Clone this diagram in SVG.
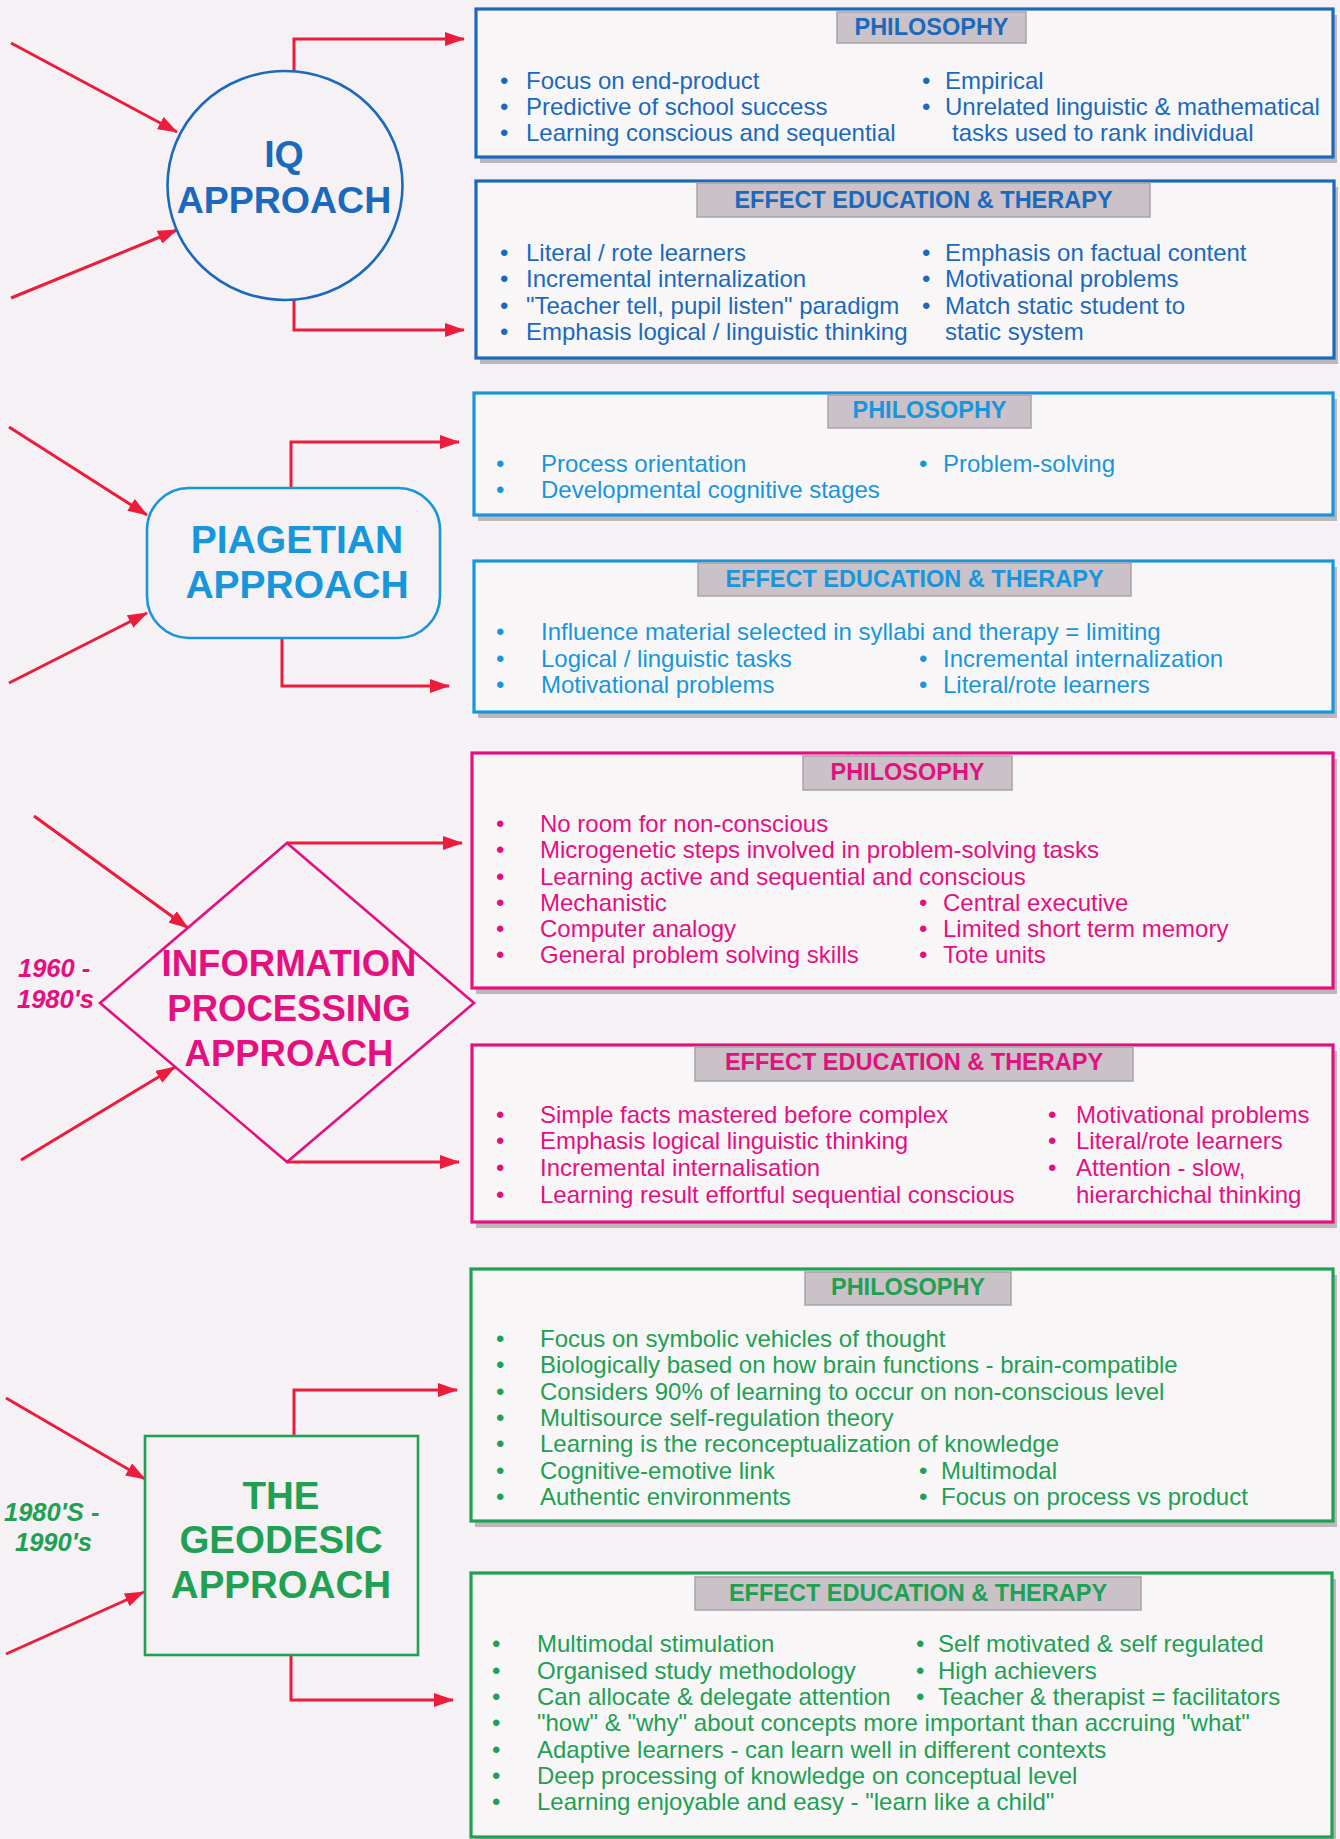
<svg xmlns="http://www.w3.org/2000/svg" width="1340" height="1839" viewBox="0 0 1340 1839">
<defs>
<style>
.t{font-family:"Liberation Sans",Arial,Helvetica,sans-serif;font-size:24px}
.lb{font-family:"Liberation Sans",Arial,Helvetica,sans-serif;font-size:23.5px;font-weight:bold;text-anchor:middle}
.nd{font-family:"Liberation Sans",Arial,Helvetica,sans-serif;font-weight:bold;text-anchor:middle}
.dt{font-family:"Liberation Sans",Arial,Helvetica,sans-serif;font-weight:bold;font-style:italic;font-size:25.5px}
.box{fill:#f9f6f8;stroke-width:3.2}
.shd{fill:#bdb6bb}
.tag{fill:#cac2c8;stroke:#a9a2a7;stroke-width:1.5}
.iq{fill:#1a69bd}
.pg{fill:#1796dc}
.ip{fill:#e5107f}
.gd{fill:#20a052}
.siq{stroke:#1a69bd}
.spg{stroke:#1796dc}
.sip{stroke:#e5107f}
.sgd{stroke:#20a052}
.node{fill:none;stroke-width:2.6}
.con{fill:none;stroke:#ec1c3d;stroke-width:3;marker-end:url(#ah)}
</style>
<marker id="ah" markerUnits="userSpaceOnUse" markerWidth="20" markerHeight="14" viewBox="0 0 20 14" refX="19" refY="7" orient="auto">
<path d="M0,0 L20,7 L0,14 z" fill="#ec1c3d"/>
</marker>
</defs>
<rect x="0" y="0" width="1340" height="1839" fill="#f6f1f4"/>

<g id="connectors">
<path class="con" d="M11,43 L177,132"/>
<path class="con" d="M11,298 L177,230"/>
<path class="con" d="M294,71 V39 H464"/>
<path class="con" d="M294,300 V330 H464"/>
<path class="con" d="M9,427 L147,515"/>
<path class="con" d="M9,683 L147,613"/>
<path class="con" d="M291,488 V442 H459"/>
<path class="con" d="M282,638 V686 H449"/>
<path class="con" d="M34,816 L188,928"/>
<path class="con" d="M21,1160 L175,1067"/>
<path class="con" d="M287,843 H462"/>
<path class="con" d="M287,1162 H459"/>
<path class="con" d="M6,1398 L145,1479"/>
<path class="con" d="M6,1654 L144,1592"/>
<path class="con" d="M294,1436 V1390 H457"/>
<path class="con" d="M291,1655 V1700 H453"/>
</g>

<!-- IQ -->
<g id="iq-approach">
<ellipse class="node siq" cx="285" cy="185.5" rx="117.5" ry="114.5"/>
<text class="nd iq" x="284" y="167" font-size="37.5">IQ</text>
<text class="nd iq" x="284" y="213" font-size="37.5">APPROACH</text>
</g>
<g id="iq-philosophy">
<rect class="shd" x="480" y="15" width="857" height="148"/>
<rect class="box siq" x="476" y="9" width="857" height="148"/>
<rect class="tag" x="837" y="12" width="189" height="31"/>
<text class="lb iq" x="931.5" y="35">PHILOSOPHY</text>
<g class="t iq">
<text x="500" y="89">•</text><text x="526" y="89">Focus on end-product</text>
<text x="500" y="115">•</text><text x="526" y="115">Predictive of school success</text>
<text x="500" y="141">•</text><text x="526" y="141">Learning conscious and sequential</text>
<text x="922" y="89">•</text><text x="945" y="89">Empirical</text>
<text x="922" y="115">•</text><text x="945" y="115">Unrelated linguistic &amp; mathematical</text>
<text x="952" y="141">tasks used to rank individual</text>
</g>
</g>
<g id="iq-effect">
<rect class="shd" x="480" y="187" width="858" height="177"/>
<rect class="box siq" x="476" y="181" width="858" height="177"/>
<rect class="tag" x="697" y="183" width="453" height="34"/>
<text class="lb iq" x="923.5" y="208">EFFECT EDUCATION &amp; THERAPY</text>
<g class="t iq">
<text x="500" y="261">•</text><text x="526" y="261">Literal / rote learners</text>
<text x="500" y="287">•</text><text x="526" y="287">Incremental internalization</text>
<text x="500" y="314">•</text><text x="526" y="314">"Teacher tell, pupil listen" paradigm</text>
<text x="500" y="340">•</text><text x="526" y="340">Emphasis logical / linguistic thinking</text>
<text x="922" y="261">•</text><text x="945" y="261">Emphasis on factual content</text>
<text x="922" y="287">•</text><text x="945" y="287">Motivational problems</text>
<text x="922" y="314">•</text><text x="945" y="314">Match static student to</text>
<text x="945" y="340">static system</text>
</g>
</g>

<!-- Piagetian -->
<g id="piagetian-approach">
<rect class="node spg" x="147" y="488" width="293" height="150" rx="42" ry="42"/>
<text class="nd pg" x="297" y="553" font-size="39">PIAGETIAN</text>
<text class="nd pg" x="297" y="598" font-size="39">APPROACH</text>
</g>
<g id="piagetian-philosophy">
<rect class="shd" x="478" y="399" width="859" height="122"/>
<rect class="box spg" x="474" y="393" width="859" height="122"/>
<rect class="tag" x="828" y="395" width="203" height="33"/>
<text class="lb pg" x="929.5" y="418">PHILOSOPHY</text>
<g class="t pg">
<text x="496" y="472">•</text><text x="541" y="472">Process orientation</text>
<text x="496" y="498">•</text><text x="541" y="498">Developmental cognitive stages</text>
<text x="919" y="472">•</text><text x="943" y="472">Problem-solving</text>
</g>
</g>
<g id="piagetian-effect">
<rect class="shd" x="478" y="567" width="859" height="151"/>
<rect class="box spg" x="474" y="561" width="859" height="151"/>
<rect class="tag" x="698" y="563" width="433" height="33"/>
<text class="lb pg" x="914.5" y="587">EFFECT EDUCATION &amp; THERAPY</text>
<g class="t pg">
<text x="496" y="640">•</text><text x="541" y="640">Influence material selected in syllabi and therapy = limiting</text>
<text x="496" y="667">•</text><text x="541" y="667">Logical / linguistic tasks</text>
<text x="496" y="693">•</text><text x="541" y="693">Motivational problems</text>
<text x="919" y="667">•</text><text x="943" y="667">Incremental internalization</text>
<text x="919" y="693">•</text><text x="943" y="693">Literal/rote learners</text>
</g>
</g>

<!-- Information processing -->
<g id="information-processing-approach">
<polygon class="node sip" points="287,843 474,1003 287,1162 100,1003"/>
<text class="nd ip" x="289" y="976" font-size="36.5">INFORMATION</text>
<text class="nd ip" x="289" y="1021" font-size="36.5">PROCESSING</text>
<text class="nd ip" x="289" y="1066" font-size="36.5">APPROACH</text>
<text class="dt ip" x="18" y="977">1960 -</text>
<text class="dt ip" x="17" y="1008">1980's</text>
</g>
<g id="information-processing-philosophy">
<rect class="shd" x="476" y="759" width="861" height="235"/>
<rect class="box sip" x="472" y="753" width="861" height="235"/>
<rect class="tag" x="803" y="756" width="209" height="34"/>
<text class="lb ip" x="907.5" y="780">PHILOSOPHY</text>
<g class="t ip">
<text x="496" y="832">•</text><text x="540" y="832">No room for non-conscious</text>
<text x="496" y="858">•</text><text x="540" y="858">Microgenetic steps involved in problem-solving tasks</text>
<text x="496" y="885">•</text><text x="540" y="885">Learning active and sequential and conscious</text>
<text x="496" y="911">•</text><text x="540" y="911">Mechanistic</text>
<text x="496" y="937">•</text><text x="540" y="937">Computer analogy</text>
<text x="496" y="963">•</text><text x="540" y="963">General problem solving skills</text>
<text x="919" y="911">•</text><text x="943" y="911">Central executive</text>
<text x="919" y="937">•</text><text x="943" y="937">Limited short term memory</text>
<text x="919" y="963">•</text><text x="943" y="963">Tote units</text>
</g>
</g>
<g id="information-processing-effect">
<rect class="shd" x="476" y="1051" width="861" height="177"/>
<rect class="box sip" x="472" y="1045" width="861" height="177"/>
<rect class="tag" x="695" y="1047" width="438" height="34"/>
<text class="lb ip" x="914" y="1070">EFFECT EDUCATION &amp; THERAPY</text>
<g class="t ip">
<text x="496" y="1123">•</text><text x="540" y="1123">Simple facts mastered before complex</text>
<text x="496" y="1149">•</text><text x="540" y="1149">Emphasis logical linguistic thinking</text>
<text x="496" y="1176">•</text><text x="540" y="1176">Incremental internalisation</text>
<text x="496" y="1203">•</text><text x="540" y="1203">Learning result effortful sequential conscious</text>
<text x="1048" y="1123">•</text><text x="1076" y="1123">Motivational problems</text>
<text x="1048" y="1149">•</text><text x="1076" y="1149">Literal/rote learners</text>
<text x="1048" y="1176">•</text><text x="1076" y="1176">Attention - slow,</text>
<text x="1076" y="1203">hierarchichal thinking</text>
</g>
</g>

<!-- Geodesic -->
<g id="geodesic-approach">
<rect class="node sgd" x="145" y="1436" width="273" height="219"/>
<text class="nd gd" x="281" y="1509" font-size="38.5">THE</text>
<text class="nd gd" x="281" y="1553" font-size="38.5">GEODESIC</text>
<text class="nd gd" x="281" y="1598" font-size="38.5">APPROACH</text>
<text class="dt gd" x="4" y="1521">1980'S -</text>
<text class="dt gd" x="15" y="1551">1990's</text>
</g>
<g id="geodesic-philosophy">
<rect class="shd" x="475" y="1275" width="862" height="252"/>
<rect class="box sgd" x="471" y="1269" width="862" height="252"/>
<rect class="tag" x="805" y="1272" width="206" height="33"/>
<text class="lb gd" x="908" y="1295">PHILOSOPHY</text>
<g class="t gd">
<text x="496" y="1347">•</text><text x="540" y="1347">Focus on symbolic vehicles of thought</text>
<text x="496" y="1373">•</text><text x="540" y="1373">Biologically based on how brain functions - brain-compatible</text>
<text x="496" y="1400">•</text><text x="540" y="1400">Considers 90% of learning to occur on non-conscious level</text>
<text x="496" y="1426">•</text><text x="540" y="1426">Multisource self-regulation theory</text>
<text x="496" y="1452">•</text><text x="540" y="1452">Learning is the reconceptualization of knowledge</text>
<text x="496" y="1479">•</text><text x="540" y="1479">Cognitive-emotive link</text>
<text x="496" y="1505">•</text><text x="540" y="1505">Authentic environments</text>
<text x="919" y="1479">•</text><text x="941" y="1479">Multimodal</text>
<text x="919" y="1505">•</text><text x="941" y="1505">Focus on process vs product</text>
</g>
</g>
<g id="geodesic-effect">
<rect class="shd" x="475" y="1579" width="861" height="264"/>
<rect class="box sgd" x="471" y="1573" width="861" height="264"/>
<rect class="tag" x="695" y="1577" width="446" height="33"/>
<text class="lb gd" x="918" y="1601">EFFECT EDUCATION &amp; THERAPY</text>
<g class="t gd">
<text x="492" y="1652">•</text><text x="537" y="1652">Multimodal stimulation</text>
<text x="492" y="1679">•</text><text x="537" y="1679">Organised study methodology</text>
<text x="492" y="1705">•</text><text x="537" y="1705">Can allocate &amp; delegate attention</text>
<text x="492" y="1731">•</text><text x="537" y="1731">"how" &amp; "why" about concepts more important than accruing "what"</text>
<text x="492" y="1758">•</text><text x="537" y="1758">Adaptive learners - can learn well in different contexts</text>
<text x="492" y="1784">•</text><text x="537" y="1784">Deep processing of knowledge on conceptual level</text>
<text x="492" y="1810">•</text><text x="537" y="1810">Learning enjoyable and easy - "learn like a child"</text>
<text x="916" y="1652">•</text><text x="938" y="1652">Self motivated &amp; self regulated</text>
<text x="916" y="1679">•</text><text x="938" y="1679">High achievers</text>
<text x="916" y="1705">•</text><text x="938" y="1705">Teacher &amp; therapist = facilitators</text>
</g>
</g>
</svg>
